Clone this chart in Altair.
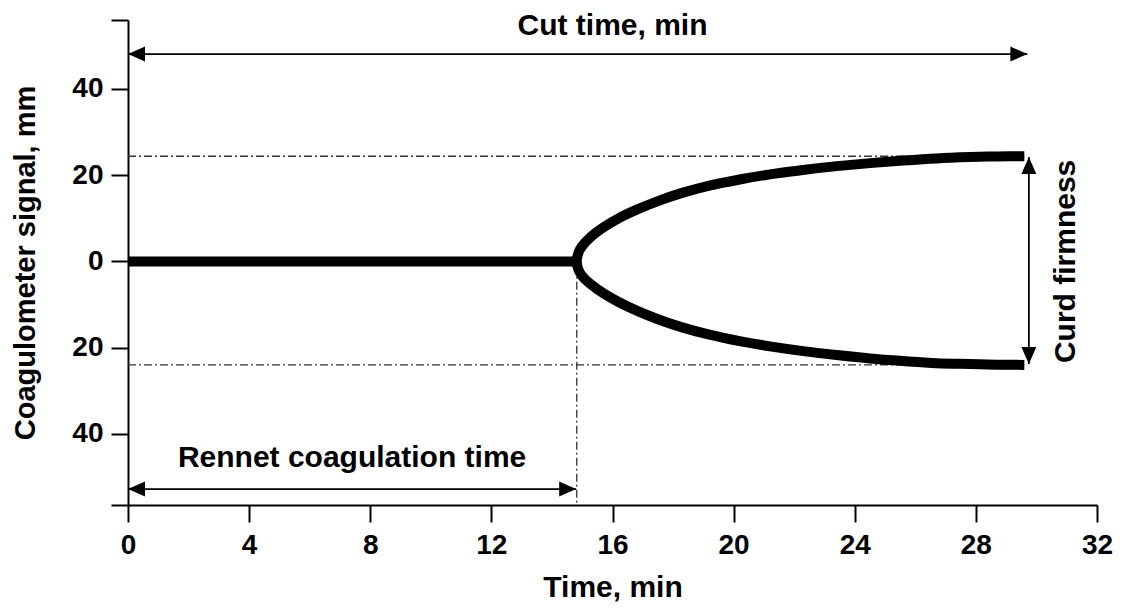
import altair as alt
import pandas as pd

# ---- data ----
flat_t = [0.0, 14.82]
flat_v = [0.0, 0.0]

upper_t = [14.82, 14.88, 15.0, 15.3, 15.7, 16.2, 16.8, 17.5, 18.3, 19.2, 20.2, 21.2, 22.3, 23.4, 24.5, 25.6, 26.7, 27.8, 28.7, 29.6]
upper_v = [0.0, 2.1, 3.6, 5.8, 7.9, 10.0, 12.0, 14.0, 15.9, 17.6, 19.0, 20.2, 21.2, 22.1, 22.8, 23.4, 23.9, 24.2, 24.35, 24.4]
lower_v = [0.0, -2.0, -3.4, -5.4, -7.4, -9.4, -11.4, -13.4, -15.3, -17.0, -18.5, -19.7, -20.8, -21.7, -22.5, -23.1, -23.6, -23.8, -23.95, -24.0]

# reference (dash-dot) lines: x, x2, y, y2
ref_x = [0.0, 0.0, 14.82]
ref_x2 = [29.6, 29.6, 14.82]
ref_y = [24.4, -24.0, -1.0]
ref_y2 = [24.4, -24.0, -56.5]

# arrows: shaft from (x, y) to (x2, y2)
arrow_x = [0.0, 0.0, 29.75]
arrow_x2 = [29.7, 14.8, 29.75]
arrow_y = [48.1, -52.8, 24.2]
arrow_y2 = [48.1, -52.8, -23.8]

# arrow heads
head_x = [0.0, 29.7, 0.0, 14.8, 29.75, 29.75]
head_y = [48.1, 48.1, -52.8, -52.8, 24.2, -23.8]
head_dir = ["left", "right", "left", "right", "up", "down"]

# annotations
label_text = ["Cut time, min", "Rennet coagulation time", "Curd firmness"]
label_x = [16.0, 7.4, 30.98]
label_y = [54.7, -45.6, 0.0]
label_angle = [0, 0, 270]

x_ticks = [0, 4, 8, 12, 16, 20, 24, 28, 32]
y_ticks = [-56.5, -40, -20, 0, 20, 40, 56]

# ---- tables ----
curve_rows = []
for i, (t, v) in enumerate(zip(flat_t, flat_v)):
    curve_rows.append({"t": t, "v": v, "s": "flat", "o": i})
n = len(upper_t)
k = 0
for i in range(n - 1, -1, -1):
    curve_rows.append({"t": upper_t[i], "v": upper_v[i], "s": "branch", "o": k}); k += 1
for i in range(1, n):
    curve_rows.append({"t": upper_t[i], "v": lower_v[i], "s": "branch", "o": k}); k += 1
curve_df = pd.DataFrame(curve_rows)

ref_df = pd.DataFrame({"x": ref_x, "x2": ref_x2, "y": ref_y, "y2": ref_y2})
arrow_df = pd.DataFrame({"x": arrow_x, "x2": arrow_x2, "y": arrow_y, "y2": arrow_y2})
head_df = pd.DataFrame({"x": head_x, "y": head_y, "d": head_dir})
label_df = pd.DataFrame({"x": label_x, "y": label_y, "txt": label_text, "a": label_angle})

FONT = "Liberation Sans"

xscale = alt.Scale(domain=[0, 32], nice=False, zero=False)
yscale = alt.Scale(domain=[-56.5, 56], nice=False, zero=False)

xaxis = alt.Axis(values=x_ticks, title="Time, min", labelPadding=9, titlePadding=13,
                 labelFlush=False, format="d")
yaxis = alt.Axis(values=y_ticks, title="Coagulometer signal, mm", labelPadding=8, titlePadding=31,
                 titleFontSize=29,
                 labelExpr="abs(datum.value) > 50 ? '' : format(abs(datum.value), 'd')")


def X(f):
    return alt.X(f, type="quantitative", scale=xscale, axis=xaxis)


def Y(f):
    return alt.Y(f, type="quantitative", scale=yscale, axis=yaxis)


curve = alt.Chart(curve_df).mark_line(
    color="black", strokeWidth=10, interpolate="catmull-rom", strokeCap="butt", strokeJoin="round"
).encode(x=X("t"), y=Y("v"), detail="s:N", order="o:Q")

refs = alt.Chart(ref_df).mark_rule(
    color="#333333", strokeWidth=1.3, strokeDash=[8, 3, 2, 3]
).encode(x=X("x"), x2="x2", y=Y("y"), y2="y2")

shafts = alt.Chart(arrow_df).mark_rule(color="black", strokeWidth=1.8).encode(
    x=X("x"), x2="x2", y=Y("y"), y2="y2")

paths = {
    "left": "M0,0 L1,-0.44 L1,0.44 Z",
    "right": "M0,0 L-1,-0.44 L-1,0.44 Z",
    "up": "M0,0 L-0.44,1 L0.44,1 Z",
    "down": "M0,0 L-0.44,-1 L0.44,-1 Z",
}
heads = alt.Chart(head_df).mark_point(filled=True, color="black", opacity=1, size=1156, strokeWidth=0).encode(
    x=X("x"), y=Y("y"),
    shape=alt.Shape("d:N", scale=alt.Scale(domain=list(paths.keys()), range=list(paths.values())), legend=None),
)

texts = []
for a in sorted(set(label_angle)):
    texts.append(
        alt.Chart(label_df[label_df["a"] == a]).mark_text(
            font=FONT, fontSize=30, fontWeight="bold", color="black", align="center",
            baseline="middle", angle=a
        ).encode(x=X("x"), y=Y("y"), text="txt:N")
    )

chart = alt.layer(refs, curve, shafts, heads, *texts).properties(
    width=969, height=485,
    autosize=alt.AutoSizeParams(type="none"),
    padding={"left": 120, "top": 12, "right": 25, "bottom": 99},
).configure_view(stroke=None).configure_axis(
    grid=False, domainColor="black", domainWidth=2, tickColor="black", tickWidth=2, tickSize=17,
    labelFont=FONT, labelFontSize=28, labelFontWeight="bold", labelColor="black",
    titleFont=FONT, titleFontSize=30, titleFontWeight="bold", titleColor="black",
)

chart.save("out.html", embed_options={"renderer": "svg", "actions": False})
